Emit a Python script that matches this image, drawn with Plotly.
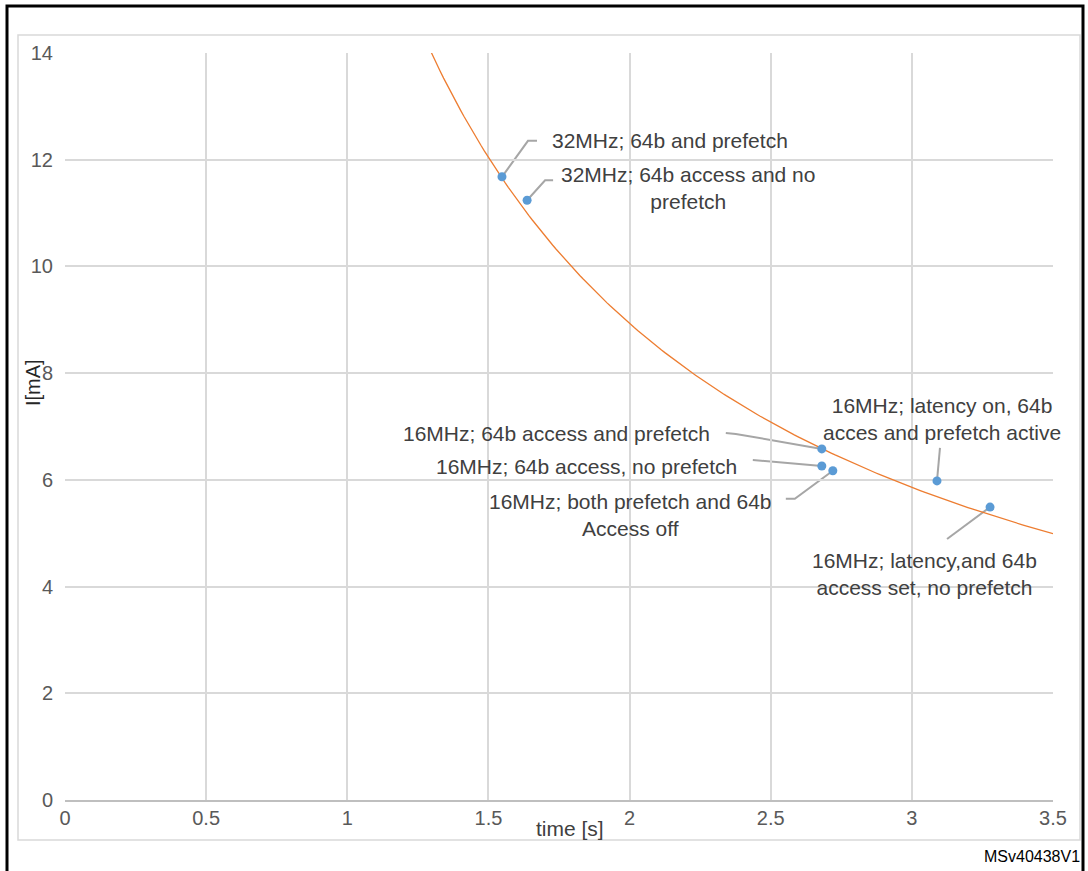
import numpy as np
import plotly.graph_objects as go

# ---------------- data ----------------
time_s = [1.548, 1.637, 2.681, 2.681, 2.720, 3.089, 3.277]
current_ma = [11.68, 11.24, 6.58, 6.26, 6.17, 5.98, 5.49]
point_labels = [
    "32MHz; 64b and prefetch",
    "32MHz; 64b access and no<br>prefetch",
    "16MHz; 64b access and prefetch",
    "16MHz; 64b access, no prefetch",
    "16MHz; both prefetch and 64b<br>Access off",
    "16MHz; latency on, 64b<br>acces and prefetch active",
    "16MHz; latency,and 64b<br>access set, no prefetch",
]
x_ticks = [0, 0.5, 1, 1.5, 2, 2.5, 3, 3.5]
y_ticks = [0, 2, 4, 6, 8, 10, 12, 14]

# power trendline (least squares in log-log space, like a spreadsheet trendline)
b, ln_a = np.polyfit(np.log(time_s), np.log(current_ma), 1)
trend_x = np.linspace(1.1, 3.5, 200)
trend_y = np.exp(ln_a) * trend_x ** b

# ---------------- layout constants ----------------
W, H = 1088, 871
L, R, T, B = 65, 35, 53, 71
PW, PH = W - L - R, H - T - B

def px(x):
    return (x - L) / PW

def py(y):
    return (H - B - y) / PH

# label placement: (dx, dy) screen offsets of text anchor, xanchor, leader path (screen px, y down)
placements = [
    (48, -36, "left", [(0, 0), (26, -36), (35, -36)]),
    (161, -12, "center", [(0, 0), (18, -20), (26, -20)]),
    (-110, -15, "right", [(0, 0), (-86, -15), (-96, -16)]),
    (-83, 1, "right", [(0, 0), (-69, -6)]),
    (-202, 44, "center", [(0, 0), (-38, 28), (-47, 28)]),
    (5, -62, "center", [(0, 0), (3, -33)]),
    (-66, 67, "center", [(0, 0), (-43, 32)]),
]

fig = go.Figure()

fig.add_trace(go.Scatter(
    x=trend_x, y=trend_y, mode="lines",
    line=dict(color="#ED7D31", width=1.3),
    hoverinfo="skip", showlegend=False,
))
fig.add_trace(go.Scatter(
    x=time_s, y=current_ma, mode="markers",
    marker=dict(color="#5B9BD5", size=9),
    showlegend=False,
))

font_family = "Liberation Sans, Arial, sans-serif"
annotations = []
shapes = []
for xv, yv, txt, (dx, dy, xa, path) in zip(time_s, current_ma, point_labels, placements):
    annotations.append(dict(
        x=xv, y=yv, xref="x", yref="y", text=txt, showarrow=False,
        xshift=dx, yshift=-dy, xanchor=xa, yanchor="middle", align="center",
        font=dict(family=font_family, size=21, color="#404040"),
    ))
    d = "M " + " L ".join(f"{p[0]} {-p[1]}" for p in path)
    shapes.append(dict(
        type="path", xref="x", yref="y", xsizemode="pixel", ysizemode="pixel",
        xanchor=xv, yanchor=yv, path=d,
        line=dict(color="#A6A6A6", width=2), layer="below",
    ))

# axis titles and footnote
annotations.append(dict(
    x=px(570), y=py(828), xref="paper", yref="paper", text="time [s]",
    showarrow=False, xanchor="center", yanchor="middle",
    font=dict(family=font_family, size=21, color="#404040"),
))
annotations.append(dict(
    x=px(33), y=py(383), xref="paper", yref="paper", text="I[mA]",
    showarrow=False, xanchor="center", yanchor="middle", textangle=-90,
    font=dict(family=font_family, size=20, color="#262626"),
))
annotations.append(dict(
    x=px(1082), y=py(856), xref="paper", yref="paper", text="MSv40438V1",
    showarrow=False, xanchor="right", yanchor="middle",
    font=dict(family=font_family, size=16, color="#000000"),
))

# chart-area light border and outer black frame
shapes.append(dict(type="rect", xref="paper", yref="paper",
                   x0=px(18), x1=px(1080), y0=py(840), y1=py(35),
                   line=dict(color="#D9D9D9", width=1.5), layer="below"))
shapes.append(dict(type="path", xref="paper", yref="paper",
                   path=f"M {px(7)} {py(880)} L {px(7)} {py(6)} L {px(1083)} {py(6)} L {px(1083)} {py(880)}",
                   line=dict(color="#000000", width=3)))

fig.update_layout(
    width=W, height=H,
    margin=dict(l=L, r=R, t=T, b=B),
    paper_bgcolor="white", plot_bgcolor="white",
    annotations=annotations, shapes=shapes,
    font=dict(family=font_family),
    xaxis=dict(
        range=[0, 3.5], tickvals=x_ticks, ticktext=[f"{v:g}" for v in x_ticks],
        showgrid=True, gridcolor="#D9D9D9", gridwidth=2,
        zeroline=False, showline=True, linecolor="#BFBFBF", linewidth=2,
        mirror=False, ticks="", ticklabelstandoff=-1,
        tickfont=dict(family=font_family, size=20, color="#595959"),
    ),
    yaxis=dict(
        range=[0, 14], tickvals=y_ticks,
        showgrid=True, gridcolor="#D9D9D9", gridwidth=2,
        zeroline=False, showline=False, ticks="", ticklabelstandoff=11,
        tickfont=dict(family=font_family, size=20, color="#595959"),
    ),
)

fig.write_html(
    "out.html",
    config={"displayModeBar": False},
    post_script="document.body.style.margin='0';document.body.style.overflow='hidden';",
)
